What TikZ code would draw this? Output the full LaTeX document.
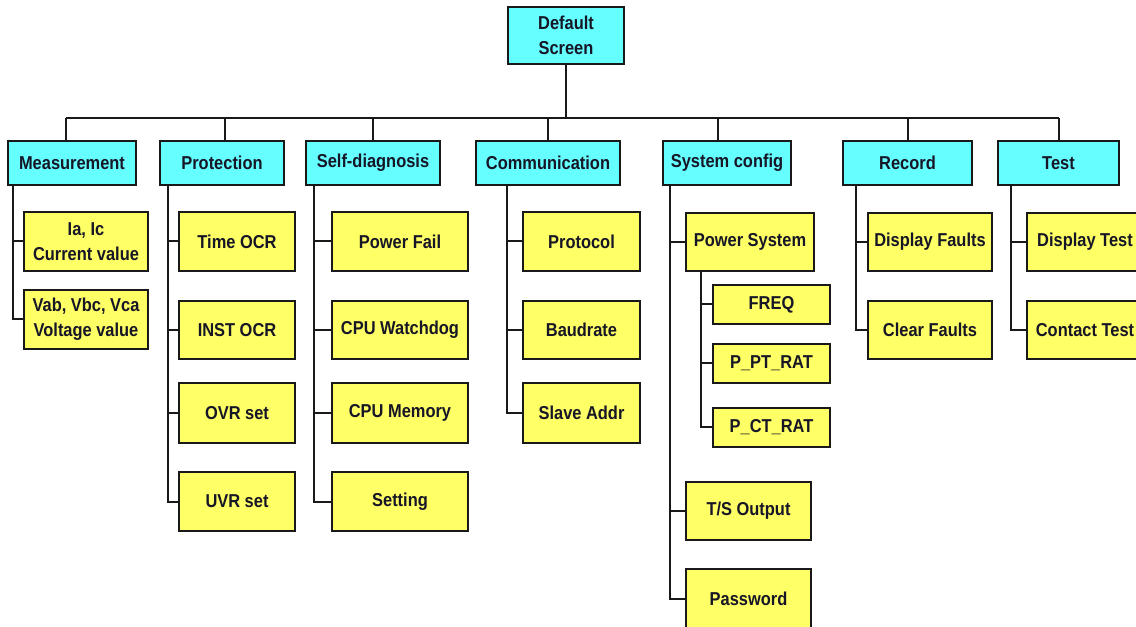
\documentclass[tikz,border=0pt]{standalone}
\usepackage{fontspec}
\setmainfont{Liberation Sans}[FakeStretch=0.88]
\usetikzlibrary{calc}
\definecolor{cbox}{RGB}{102,255,255}
\definecolor{ybox}{RGB}{255,255,102}
\definecolor{ink}{RGB}{22,22,38}
\definecolor{wire}{RGB}{25,25,25}
\newcommand{\bx}[7]{\node[#6, minimum width={(#4-#2)*0.75pt}, minimum height={(#5-#3)*0.75pt}] (#1) at ({(#2+#4)/2},{(#3+#5)/2}) {#7};}
\tikzset{
  basebox/.style={draw=wire, line width=1.5pt, inner sep=0pt, align=center, text=ink,
    font=\fontsize{14}{18.5}\selectfont\bfseries},
  topbox/.style={basebox, fill=cbox},
  leafbox/.style={basebox, fill=ybox},
  wirestyle/.style={draw=wire, line width=1.5pt}
}
\begin{document}
\begin{tikzpicture}[x=0.75pt,y=-0.75pt]
\useasboundingbox (0,0) rectangle (1136,627);
\fill[white] (0,0) rectangle (1136,627);
\clip (0,0) rectangle (1136,627);
% root
\bx{root}{508}{7}{624}{64}{topbox}{Default\\Screen}
% level 1
\bx{meas}{8}{141}{136}{185}{topbox}{Measurement}
\bx{prot}{160}{141}{284}{185}{topbox}{Protection}
\bx{diag}{306}{141}{440}{185}{topbox}{Self-diagnosis}
\bx{comm}{476}{141}{620}{185}{topbox}{Communication}
\bx{sysc}{663}{141}{791}{185}{topbox}{System config}
\bx{rec}{843}{141}{972}{185}{topbox}{Record}
\bx{test}{998}{141}{1119}{185}{topbox}{Test}
% bus
\coordinate (bus) at (566,118);
\coordinate (mtop) at ($(meas.north)+(-6,0)$);
\coordinate (ptop) at ($(prot.north)+(3,0)$);
\coordinate (dtop) at (diag.north);
\coordinate (ctop) at (comm.north);
\coordinate (stop) at ($(sysc.north)+(-9,0)$);
\coordinate (rtop) at (rec.north);
\coordinate (ttop) at (test.north);
\draw[wirestyle] (root.south) -- (bus);
\draw[wirestyle] (bus -| mtop) -- (bus -| ttop);
\foreach \n in {mtop,ptop,dtop,ctop,stop,rtop,ttop}{
  \draw[wirestyle] (bus -| \n) -- (\n);
}
% Measurement
\bx{m1}{24}{212}{148}{271}{leafbox}{Ia, Ic\\Current value}
\bx{m2}{24}{290}{148}{349}{leafbox}{Vab, Vbc, Vca\\Voltage value}
\foreach \c in {m1,m2}{\draw[wirestyle] ($(meas.south west)+(6,0)$) |- (\c.west);}
% Protection
\bx{p1}{179}{212}{295}{271}{leafbox}{Time OCR}
\bx{p2}{179}{301}{295}{359}{leafbox}{INST OCR}
\bx{p3}{179}{383}{295}{443}{leafbox}{OVR set}
\bx{p4}{179}{472}{295}{531}{leafbox}{UVR set}
\foreach \c in {p1,p2,p3,p4}{\draw[wirestyle] ($(prot.south west)+(9,0)$) |- (\c.west);}
% Self-diagnosis
\bx{d1}{332}{212}{468}{271}{leafbox}{Power Fail}
\bx{d2}{332}{301}{468}{359}{leafbox}{CPU Watchdog}
\bx{d3}{332}{383}{468}{443}{leafbox}{CPU Memory}
\bx{d4}{332}{472}{468}{531}{leafbox}{Setting}
\foreach \c in {d1,d2,d3,d4}{\draw[wirestyle] ($(diag.south west)+(9,0)$) |- (\c.west);}
% Communication
\bx{c1}{523}{212}{640}{271}{leafbox}{Protocol}
\bx{c2}{523}{301}{640}{359}{leafbox}{Baudrate}
\bx{c3}{523}{383}{640}{443}{leafbox}{Slave Addr}
\foreach \c in {c1,c2,c3}{\draw[wirestyle] ($(comm.south west)+(32,0)$) |- (\c.west);}
% System config
\bx{s1}{686}{213}{814}{271}{leafbox}{Power System}
\bx{s2}{686}{482}{811}{540}{leafbox}{T/S Output}
\bx{s3}{686}{569}{811}{628}{leafbox}{Password}
\foreach \c in {s1,s2,s3}{\draw[wirestyle] ($(sysc.south west)+(8,0)$) |- (\c.west);}
\bx{f1}{713}{285}{830}{324}{leafbox}{FREQ}
\bx{f2}{713}{344}{830}{383}{leafbox}{P\_PT\_RAT}
\bx{f3}{713}{408}{830}{447}{leafbox}{P\_CT\_RAT}
\foreach \c in {f1,f2,f3}{\draw[wirestyle] ($(s1.south west)+(16,0)$) |- (\c.west);}
% Record
\bx{r1}{868}{213}{992}{271}{leafbox}{Display Faults}
\bx{r2}{868}{301}{992}{359}{leafbox}{Clear Faults}
\foreach \c in {r1,r2}{\draw[wirestyle] ($(rec.south west)+(14,0)$) |- (\c.west);}
% Test
\bx{t1}{1027}{213}{1143}{271}{leafbox}{Display Test}
\bx{t2}{1027}{301}{1143}{359}{leafbox}{Contact Test}
\foreach \c in {t1,t2}{\draw[wirestyle] ($(test.south west)+(14,0)$) |- (\c.west);}
\end{tikzpicture}
\end{document}
